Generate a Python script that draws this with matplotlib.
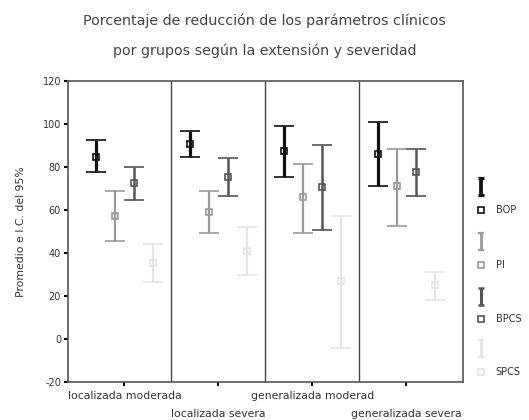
import numpy as np
import matplotlib
matplotlib.use("Agg")
import matplotlib.pyplot as plt

plt.rcParams['font.family'] = ['DejaVu Sans']
plt.rcParams['axes.unicode_minus'] = False

# datos
grupos = ["localizada moderada", "localizada severa", "generalizada moderad", "generalizada severa"]
series = ["BOP", "PI", "BPCS", "SPCS"]
media = {
    "BOP":  [84.9, 90.8, 87.3, 86.0],
    "PI":   [57.3, 59.1, 66.0, 71.4],
    "BPCS": [72.6, 75.3, 70.5, 77.5],
    "SPCS": [35.3, 41.1, 26.8, 25.3],
}
ic_sup = {
    "BOP":  [92.4, 96.6, 99.2, 100.9],
    "PI":   [68.7, 68.7, 81.5, 88.5],
    "BPCS": [79.8, 84.2, 90.4, 88.5],
    "SPCS": [44.0, 51.9, 57.0, 31.4],
}
ic_inf = {
    "BOP":  [77.8, 84.5, 75.2, 71.4],
    "PI":   [45.4, 49.3, 49.3, 52.8],
    "BPCS": [64.8, 66.3, 50.8, 66.3],
    "SPCS": [26.5, 29.6, -4.2, 18.3],
}
colores = {"BOP": "#111111", "PI": "#9a9a9a", "BPCS": "#555555", "SPCS": "#e4e4e4"}
grosor = {"BOP": 2.3, "PI": 1.6, "BPCS": 1.8, "SPCS": 1.6}
desplaz = [-0.30, -0.10, 0.10, 0.30]
texto = "#333333"

fig = plt.figure(figsize=(5.29, 4.2), dpi=100)
ax = fig.add_axes([0.1285, 0.0905, 0.7465, 0.7165])

x = np.arange(1, len(grupos) + 1)
for s, d in zip(series, desplaz):
    m = np.array(media[s])
    lo = m - np.array(ic_inf[s])
    hi = np.array(ic_sup[s]) - m
    ax.errorbar(x + d, m, yerr=[lo, hi], fmt='s', color=colores[s], ecolor=colores[s],
                elinewidth=grosor[s], capsize=7, capthick=grosor[s],
                ms=5, mfc='none', mew=1.2)

for b in [1.5, 2.5, 3.5]:
    ax.axvline(b, color='#444444', lw=1.0)

ax.set_xlim(0.4, 4.6)
ax.set_ylim(-20, 120)
ax.set_yticks(range(-20, 121, 20))
ax.set_xticks(x)
ax.set_xticklabels([])
# etiquetas escalonadas
trans = ax.get_xaxis_transform()
for i, g in enumerate(grupos):
    yy = -0.045 if i % 2 == 0 else -0.105
    ax.text(x[i], yy, g, transform=trans, ha='center', va='center', fontsize=7.8, color=texto)
ax.tick_params(axis='y', labelsize=7, length=3, width=1.5, pad=2, labelcolor=texto)
ax.tick_params(axis='x', length=3, width=1.5, pad=3)
for sp in ax.spines.values():
    sp.set_color('#555555')
    sp.set_linewidth(1.2)
ax.set_ylabel("Promedio e I.C. del 95%", fontsize=7.8, labelpad=12, color=texto)

fig.text(0.5, 0.94, "Porcentaje de reducción de los parámetros clínicos", ha='center',
         fontsize=10.3, color='#444444')
fig.text(0.5, 0.87, "por grupos según la extensión y severidad", ha='center',
         fontsize=10.3, color='#444444')

# leyenda estilo SPSS
lax = fig.add_axes([0.895, 0.08, 0.105, 0.5])
lax.set_xlim(0, 1)
lax.set_ylim(0, 1)
lax.axis('off')
pos = [0.84, 0.58, 0.32, 0.07]
for s, p in zip(series, pos):
    lax.errorbar([0.14], [p + 0.11], yerr=[[0.04], [0.04]], fmt='none', ecolor=colores[s],
                 elinewidth=grosor[s] + 0.4, capsize=2.5, capthick=grosor[s])
    lax.plot([0.14], [p], 's', color=colores[s], ms=5, mfc='none', mew=1.2)
    lax.text(0.4, p, s, fontsize=7, va='center', color=texto)

fig.savefig("out.png", dpi=100)
